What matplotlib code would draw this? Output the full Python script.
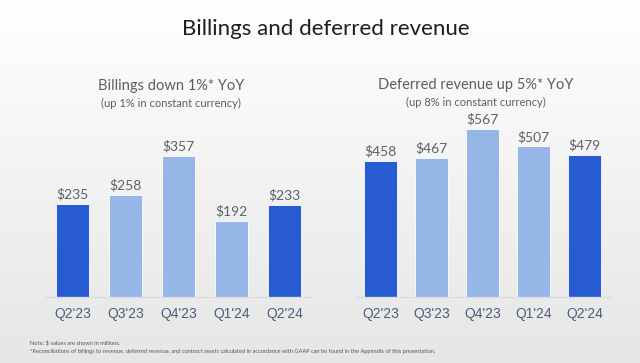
import numpy as np
import matplotlib.pyplot as plt

quarters = ["Q2'23", "Q3'23", "Q4'23", "Q1'24", "Q2'24"]
billings = [235, 258, 357, 192, 233]
deferred = [458, 467, 567, 507, 479]
# current-year quarters are drawn in dark blue
highlight = [True, False, False, False, True]

DARK = '#285bd2'
LIGHT = '#97b6e8'
W, H = 640, 363

fig = plt.figure(figsize=(W / 100, H / 100), dpi=100)

# background gradient, white at top to light grey at bottom
bg = fig.add_axes([0, 0, 1, 1], zorder=-10)
grad = np.linspace(1.0, 0.0, 256).reshape(-1, 1)
bg.imshow(grad, aspect='auto', cmap=plt.matplotlib.colors.LinearSegmentedColormap.from_list(
    'bg', ['#e6e6e6', '#ffffff']), extent=[0, 1, 0, 1])
bg.axis('off')

fig.text(326 / W, 1 - 29 / H, 'Billings and deferred revenue', ha='center', va='center',
         fontsize=16, family='Lato', color='#1e1e1e')


def panel(left_px, right_px, top_units, values, title_cx, title, subtitle):
    base = 297
    ax = fig.add_axes([left_px / W, (H - base) / H, (right_px - left_px) / W, 170 / H])
    colors = [DARK if h else LIGHT for h in highlight]
    x = np.arange(len(values))
    bars = ax.bar(x, values, width=0.63, color=colors, edgecolor='white', linewidth=0.6)
    for b, v in zip(bars, values):
        ax.text(b.get_x() + b.get_width() / 2, v + top_units * 0.02, f'${v}',
                ha='center', va='bottom', fontsize=10, family='Lato', color='#5c6068')
    ax.set_xlim(-0.5, 4.5)
    ax.set_ylim(0, top_units)
    ax.set_xticks(x)
    ax.set_xticklabels(quarters, fontsize=10, family='Liberation Sans', color='#4a5e7e')
    ax.tick_params(axis='x', length=0, pad=7)
    ax.set_yticks([])
    for s in ['top', 'right', 'left']:
        ax.spines[s].set_visible(False)
    ax.spines['bottom'].set_color('#d5dde6')
    ax.spines['bottom'].set_linewidth(1)
    ax.patch.set_alpha(0)
    cx = title_cx / W
    fig.text(cx, 1 - title[1] / H, title[0], ha='center', va='center',
             fontsize=10.5, family='Lato', color='#5a5e66')
    fig.text(cx, 1 - subtitle[1] / H, subtitle[0], ha='center', va='center',
             fontsize=8, family='Lato', color='#5a5e66')
    return ax


panel(46, 311, 170 / 0.396, billings, 171,
      ('Billings down 1%* YoY', 86), ('(up 1% in constant currency)', 103))
panel(355, 610, 170 / 0.297, deferred, 476,
      ('Deferred revenue up 5%* YoY', 85), ('(up 8% in constant currency)', 102))

fig.text(30 / W, 1 - 343 / H, 'Note: $ values are shown in millions.', fontsize=4.05,
         family='Lato', color='#555555', va='center')
fig.text(30 / W, 1 - 352 / H,
         '*Reconciliations of billings to revenue, deferred revenue, and contract assets calculated '
         'in accordance with GAAP can be found in the Appendix of this presentation.',
         fontsize=4.05, family='Lato', color='#555555', va='center')

fig.savefig('out.png', dpi=100)
